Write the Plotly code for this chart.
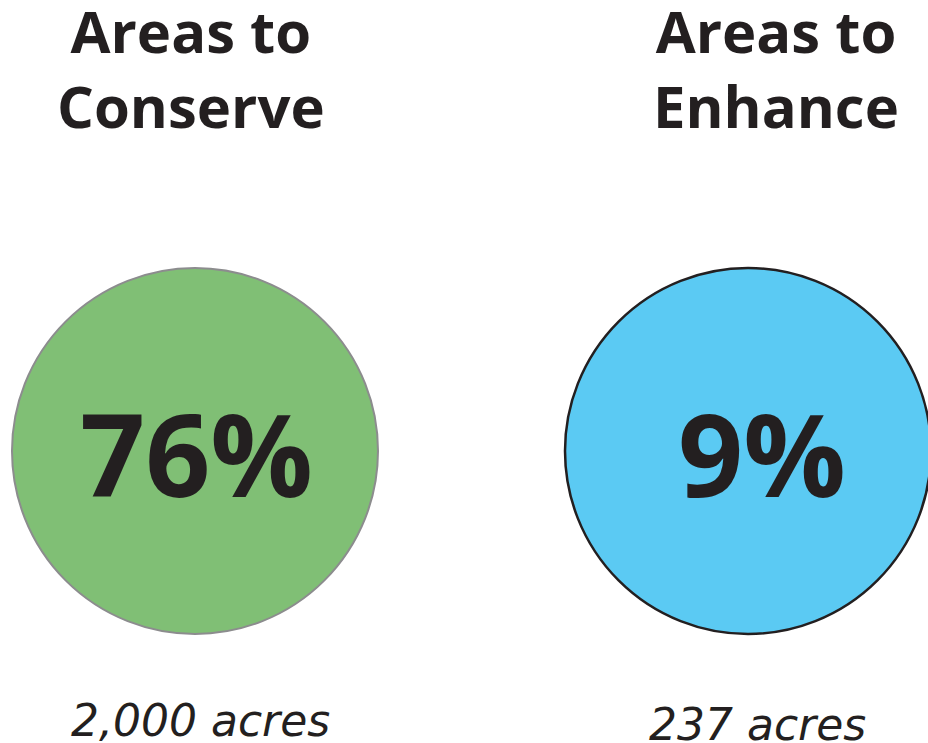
import plotly.graph_objects as go

# ---- data ----
categories = ["Areas to<br>Conserve", "Areas to<br>Enhance"]
percentages = [76, 9]
acres = [2000, 237]

# ---- styling / layout ----
fill_colors = ["#80BF75", "#5BCAF3"]
line_colors = ["#8C8C8E", "#231F20"]
line_widths = [2, 2.5]
circle_cx = [195, 748]
circle_cy = 451
radius = 183
title_x = [191, 776]
title_y = 68
pct_x = [196, 762]
pct_y = 452
acre_x = [200, 757]
acre_y = [720, 724]

W, H = 928, 743
FONT = "Open Sans"
TXT = "#231F20"

fig = go.Figure()
# invisible trace to establish axes
fig.add_trace(go.Scatter(x=[0, W], y=[0, H], mode="markers",
                         marker=dict(opacity=0), hoverinfo="skip", showlegend=False))

for i, cat in enumerate(categories):
    fig.add_shape(type="circle", xref="x", yref="y",
                  x0=circle_cx[i] - radius, x1=circle_cx[i] + radius,
                  y0=circle_cy - radius, y1=circle_cy + radius,
                  fillcolor=fill_colors[i],
                  line=dict(color=line_colors[i], width=line_widths[i]),
                  layer="below")
    fig.add_annotation(x=title_x[i], y=title_y, xref="x", yref="y", text=f"<b>{cat}</b>",
                       showarrow=False, font=dict(family=FONT, size=58, color=TXT),
                       align="center", xanchor="center", yanchor="middle")
    fig.add_annotation(x=pct_x[i], y=pct_y, xref="x", yref="y",
                       text=f"<b>{percentages[i]}%</b>",
                       showarrow=False, font=dict(family=FONT, size=114, color=TXT),
                       xanchor="center", yanchor="middle")
    fig.add_annotation(x=acre_x[i], y=acre_y[i], xref="x", yref="y",
                       text=f"<i>{acres[i]:,} acres</i>",
                       showarrow=False, font=dict(family="DejaVu Sans", size=44, color=TXT),
                       xanchor="center", yanchor="middle")

fig.update_layout(
    width=W, height=H,
    margin=dict(l=0, r=0, t=0, b=0),
    paper_bgcolor="white", plot_bgcolor="white",
    xaxis=dict(range=[0, W], visible=False, fixedrange=True),
    yaxis=dict(range=[H, 0], visible=False, fixedrange=True),
    showlegend=False,
)

fig.write_html("out.html", config={"displayModeBar": False},
               post_script="document.body.style.margin='0';document.body.style.overflow='hidden';")
